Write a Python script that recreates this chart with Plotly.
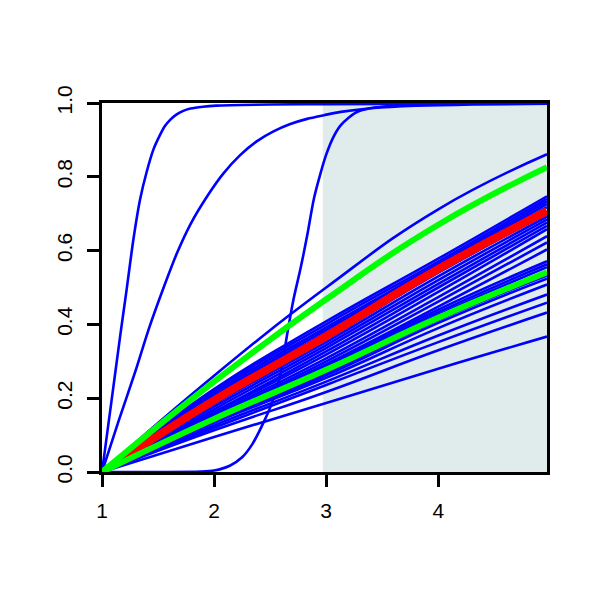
import plotly.graph_objects as go

# x grid at which the near-linear curves were read
x_grid = [1, 2, 3, 4, 4.97]

# blue near-linear curves: values at x = 1, 2, 3, 4, 4.97
blue_curves = [
    [0, 0.261, 0.500, 0.712, 0.861],
    [0, 0.225, 0.408, 0.578, 0.747],
    [0, 0.220, 0.400, 0.570, 0.740],
    [0, 0.214, 0.392, 0.563, 0.733],
    [0, 0.208, 0.385, 0.556, 0.726],
    [0, 0.203, 0.378, 0.551, 0.718],
    [0, 0.190, 0.360, 0.540, 0.700],
    [0, 0.184, 0.352, 0.530, 0.692],
    [0, 0.177, 0.344, 0.520, 0.684],
    [0, 0.170, 0.336, 0.510, 0.676],
    [0, 0.163, 0.327, 0.500, 0.667],
    [0, 0.160, 0.318, 0.488, 0.658],
    [0, 0.155, 0.308, 0.474, 0.639],
    [0, 0.150, 0.300, 0.462, 0.622],
    [0, 0.146, 0.292, 0.448, 0.603],
    [0, 0.148, 0.287, 0.440, 0.571],
    [0, 0.146, 0.283, 0.433, 0.563],
    [0, 0.143, 0.278, 0.426, 0.555],
    [0, 0.138, 0.268, 0.412, 0.532],
    [0, 0.135, 0.262, 0.404, 0.524],
    [0, 0.133, 0.255, 0.390, 0.508],
    [0, 0.126, 0.245, 0.370, 0.481],
    [0, 0.120, 0.236, 0.352, 0.459],
    [0, 0.113, 0.217, 0.330, 0.432],
    [0, 0.095, 0.187, 0.280, 0.367],
]

# steep blue curves (read point by point)
s1_x = [1, 1.055, 1.11, 1.165, 1.22, 1.28, 1.34, 1.40, 1.46, 1.52, 1.56, 1.61, 1.66, 1.72, 1.79, 1.9, 2.02, 2.5, 3.0, 4.0, 4.97]
s1_y = [0, 0.125, 0.25, 0.375, 0.495, 0.63, 0.739, 0.815, 0.875, 0.915, 0.937, 0.955, 0.968, 0.978, 0.985, 0.99, 0.993, 0.996, 0.997, 0.998, 0.998]
s2_x = [1, 1.15, 1.3, 1.42, 1.55, 1.67, 1.79, 1.94, 2.08, 2.23, 2.38, 2.53, 2.68, 2.83, 2.98, 3.13, 3.4, 3.8, 4.3, 4.97]
s2_y = [0, 0.14, 0.275, 0.39, 0.50, 0.594, 0.672, 0.748, 0.808, 0.858, 0.896, 0.923, 0.943, 0.957, 0.967, 0.976, 0.986, 0.993, 0.996, 0.998]
s3_x = [1, 1.5, 1.88, 2.0, 2.14, 2.25, 2.34, 2.45, 2.52, 2.59, 2.65, 2.71, 2.77, 2.83, 2.89, 2.95, 3.0, 3.06, 3.125, 3.2, 3.27, 3.38, 3.5, 4.0, 4.97]
s3_y = [0, 0, 0.001, 0.004, 0.017, 0.04, 0.075, 0.14, 0.19, 0.26, 0.37, 0.47, 0.55, 0.64, 0.74, 0.81, 0.86, 0.905, 0.938, 0.96, 0.975, 0.985, 0.99, 0.997, 0.998]

# highlighted curves
green_upper = [0, 0.245, 0.468, 0.670, 0.826]
green_lower = [0, 0.144, 0.277, 0.418, 0.541]
red_x = [1.2, 2, 3, 4, 4.97]
red_y = [0.039, 0.194, 0.368, 0.550, 0.707]

# shaded interval
shade_x = [2.97, 4.97]

x_ticks = [1, 2, 3, 4]
y_ticks = [0, 0.2, 0.4, 0.6, 0.8, 1.0]
y_labels = ["0.0", "0.2", "0.4", "0.6", "0.8", "1.0"]

BLUE = "#0000FF"
fig = go.Figure()

for c in blue_curves:
    fig.add_trace(go.Scatter(x=x_grid, y=c, mode="lines",
                             line=dict(color=BLUE, width=2.6, shape="spline", smoothing=1.3)))
for sx, sy in [(s1_x, s1_y), (s2_x, s2_y), (s3_x, s3_y)]:
    fig.add_trace(go.Scatter(x=sx, y=sy, mode="lines",
                             line=dict(color=BLUE, width=2.6, shape="spline", smoothing=0.8)))

fig.add_trace(go.Scatter(x=red_x, y=red_y, mode="lines",
                         line=dict(color="#FF0000", width=8, shape="spline", smoothing=1.3)))
for g in [green_upper, green_lower]:
    fig.add_trace(go.Scatter(x=x_grid, y=g, mode="lines",
                             line=dict(color="#00FF00", width=6, shape="spline", smoothing=1.3)))

fig.add_shape(type="rect", xref="x", yref="y", x0=shade_x[0], x1=shade_x[1], y0=0, y1=1,
              fillcolor="#E0ECEC", line=dict(width=0), layer="below")

font = dict(family="Liberation Sans", size=21, color="black")
axis_common = dict(showgrid=False, zeroline=False, showline=True, linecolor="black", linewidth=2.5,
                   mirror=True, ticks="outside", ticklen=12, tickwidth=2.5, tickcolor="black",
                   tickfont=font)
fig.update_layout(
    width=600, height=600,
    margin=dict(l=94, r=61, t=95, b=136),
    plot_bgcolor="white", paper_bgcolor="white",
    showlegend=False, font=font,
    xaxis=dict(range=[1, 4.97], tickvals=x_ticks, ticktext=[str(v) for v in x_ticks],
               ticklabelstandoff=6, **axis_common),
    yaxis=dict(range=[0, 1], tickvals=y_ticks, ticktext=y_labels, tickangle=-90,
               ticklabelstandoff=7, **axis_common),
)

fig.write_html("out.html")
